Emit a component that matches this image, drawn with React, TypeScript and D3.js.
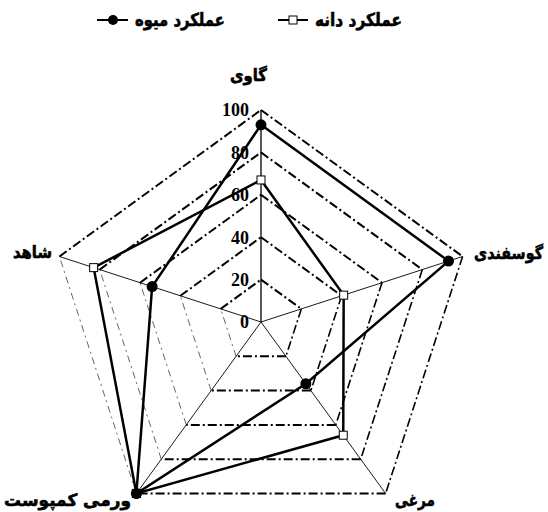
import React, { useLayoutEffect, useRef, useState } from "react";
import * as d3 from "d3";

const categories = ["گاوی", "گوسفندی", "مرغی", "ورمی کمپوست", "شاهد"];
const fruitYield = [93, 93, 36, 100, 54];
const grainYield = [67, 41, 66, 100, 83];
const ticks = [0, 20, 40, 60, 80, 100];
const seriesNames = ["عملکرد دانه", "عملکرد میوه"];

const W = 548, H = 512;
const cx = 261, cy = 322, R = 212;

const rScale = d3.scaleLinear().domain([0, 100]).range([0, R]);
const angle = d3.scaleLinear().domain([0, categories.length]).range([0, 2 * Math.PI]);

function pt(i: number, v: number): [number, number] {
  const a = angle(i);
  const r = rScale(v);
  return [cx + r * Math.sin(a), cy - r * Math.cos(a)];
}

const sideStyles = [
  { w: 2, c: "#000", d: "9,3,2,3" },
  { w: 1.6, c: "#000", d: "9,3,2,3" },
  { w: 2, c: "#000", d: "9,3,2,3" },
  { w: 0.9, c: "#555", d: "7,4,2,4" },
  { w: 2, c: "#000", d: "9,3,2,3" },
];

const lineGen = d3.line<[number, number]>().x(d => d[0]).y(d => d[1]);

const arabicFont = "'DejaVu Sans', 'Noto Sans', sans-serif";
const numFont = "'Liberation Serif', 'DejaVu Serif', serif";

const labelBox = [
  { x: 230, y: 81, w: 37 },
  { x: 474, y: 259, w: 69 },
  { x: 395, y: 506, w: 40 },
  { x: 4, y: 506, w: 127 },
  { x: 13, y: 258, w: 39 },
];

function FitText({ x, y, w, size, children }: { x: number; y: number; w: number; size: number; children: string }) {
  const ref = useRef<SVGTextElement>(null);
  const [s, setS] = useState(1);
  useLayoutEffect(() => {
    if (ref.current) {
      const len = ref.current.getComputedTextLength();
      if (len > 0) setS(w / len);
    }
  }, [w, children]);
  return (
    <text ref={ref} transform={`translate(${x},${y}) scale(${s},1)`} x={0} y={0} textAnchor="start"
      fontFamily={arabicFont} fontWeight="bold" fontSize={size} fill="#000" stroke="#000" strokeWidth={0.6}>
      {children}
    </text>
  );
}

export default function App() {
  const gridLevels = ticks.filter(t => t > 0);
  const n = categories.length;
  const fruitPts = fruitYield.map((v, i) => pt(i, v));
  const grainPts = grainYield.map((v, i) => pt(i, v));
  return (
    <svg width={W} height={H} style={{ position: "absolute", left: 0, top: 0, background: "#fff" }}>
      <rect width={W} height={H} fill="#fff" />
      {gridLevels.map(lv =>
        d3.range(n).map(i => {
          const a = pt(i, lv), b = pt((i + 1) % n, lv);
          const s = sideStyles[i];
          return (
            <line key={`g${lv}-${i}`} x1={a[0]} y1={a[1]} x2={b[0]} y2={b[1]}
              stroke={s.c} strokeWidth={s.w} strokeDasharray={s.d} />
          );
        })
      )}
      {d3.range(n).map(i => {
        const b = pt(i, 100);
        return <line key={`s${i}`} x1={cx} y1={cy} x2={b[0]} y2={b[1]} stroke="#000" strokeWidth={i === 0 ? 1.3 : 0.9} />;
      })}
      {ticks.map(t => (
        <text key={`t${t}`} x={249} y={cy - rScale(t)} dy="0.35em" textAnchor="end"
          fontFamily={numFont} fontWeight="bold" fontSize={18} fill="#000">{t}</text>
      ))}
      <path d={lineGen([...grainPts, grainPts[0]]) || ""} fill="none" stroke="#000" strokeWidth={2.5} />
      <path d={lineGen([...fruitPts, fruitPts[0]]) || ""} fill="none" stroke="#000" strokeWidth={2.5} />
      {grainPts.map((p, i) => (
        <rect key={`q${i}`} x={p[0] - 4} y={p[1] - 4} width={8} height={8} fill="#fff" stroke="#000" strokeWidth={1} />
      ))}
      {fruitPts.map((p, i) => (
        <circle key={`c${i}`} cx={p[0]} cy={p[1]} r={5.5} fill="#000" />
      ))}
      {categories.map((c, i) => (
        <FitText key={`l${i}`} x={labelBox[i].x} y={labelBox[i].y} w={labelBox[i].w} size={17}>{c}</FitText>
      ))}
      <g>
        <line x1={278} y1={20} x2={308} y2={20} stroke="#000" strokeWidth={2} />
        <rect x={289} y={16} width={8} height={8} fill="#fff" stroke="#000" strokeWidth={1} />
        <FitText x={315} y={26} w={87} size={18}>{seriesNames[0]}</FitText>
        <line x1={97} y1={20} x2={128} y2={20} stroke="#000" strokeWidth={2} />
        <circle cx={113} cy={20} r={5} fill="#000" />
        <FitText x={135} y={26} w={90} size={18}>{seriesNames[1]}</FitText>
      </g>
    </svg>
  );
}
